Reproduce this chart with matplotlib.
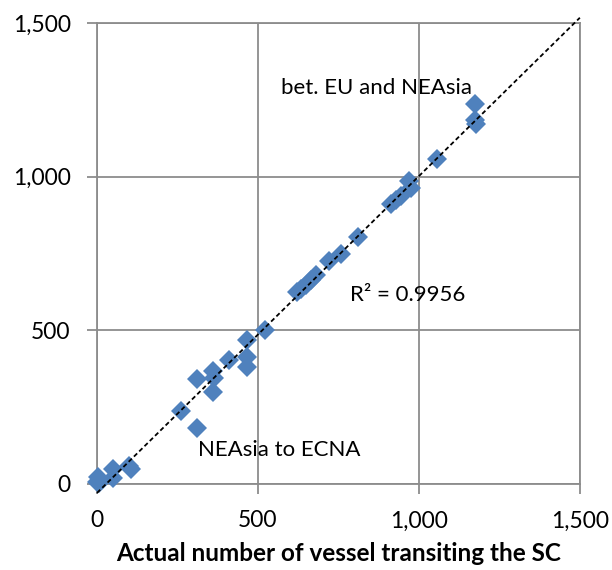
import numpy as np
from matplotlib import pyplot as plt
from matplotlib.ticker import FuncFormatter

plt.rcParams['font.family'] = ['Lato', 'DejaVu Sans']

# actual vs estimated number of vessels
actual = [0, 2, 5, 50, 50, 100, 105, 260, 310, 312, 360, 365, 360, 410,
          465, 465, 465, 522, 622, 635, 650, 665, 680, 722, 757, 812,
          912, 930, 945, 968, 975, 1055, 1175, 1175, 1178]
estimated = [8, 22, 2, 48, 18, 58, 50, 238, 182, 340, 368, 344, 300, 403,
             469, 413, 381, 500, 625, 636, 648, 663, 680, 724, 748, 802,
             910, 925, 938, 985, 964, 1058, 1235, 1185, 1172]
ticks = [0, 500, 1000, 1500]

blue = '#4F81BD'
grey = '#8C8C8C'

fig = plt.figure(figsize=(6.12, 5.7), dpi=100)
ax = fig.add_axes([0.1585, 0.1509, 0.789, 0.8088])

ax.plot(actual, estimated, 'D', color=blue, markersize=10.5, markeredgewidth=0,
        zorder=3, clip_on=False)

# linear trendline, forecast to 1500
k, b = np.polyfit(actual, estimated, 1)
xs = np.array([0, 1500])
ax.plot(xs, k * xs + b, '--', color='black', lw=1.3, dashes=(2.5, 1.6),
        zorder=4, clip_on=False)

ax.set_xlim(0, 1500)
ax.set_ylim(0, 1500)
ax.set_xticks(ticks)
ax.set_yticks(ticks)
fmt = FuncFormatter(lambda v, p: '{:,.0f}'.format(v))
ax.xaxis.set_major_formatter(fmt)
ax.yaxis.set_major_formatter(fmt)
ax.grid(True, color=grey, lw=1.3)
ax.set_axisbelow(True)
for s in ax.spines.values():
    s.set_color(grey)
    s.set_linewidth(1.3)
ax.tick_params(length=7, width=1.3, color=grey, pad=12, labelsize=16.5,
               labelcolor='black')

ax.set_xlabel('Actual number of vessel transiting the SC', fontsize=17.5,
              fontweight='bold', labelpad=8)

ax.text(571, 1290, 'bet. EU and NEAsia', fontsize=16, va='center')
ax.text(314, 111, 'NEAsia to ECNA', fontsize=16, va='center')
ax.text(786, 616, 'R² = 0.9956', fontsize=16, va='center')

fig.savefig('out.png', dpi=100)
